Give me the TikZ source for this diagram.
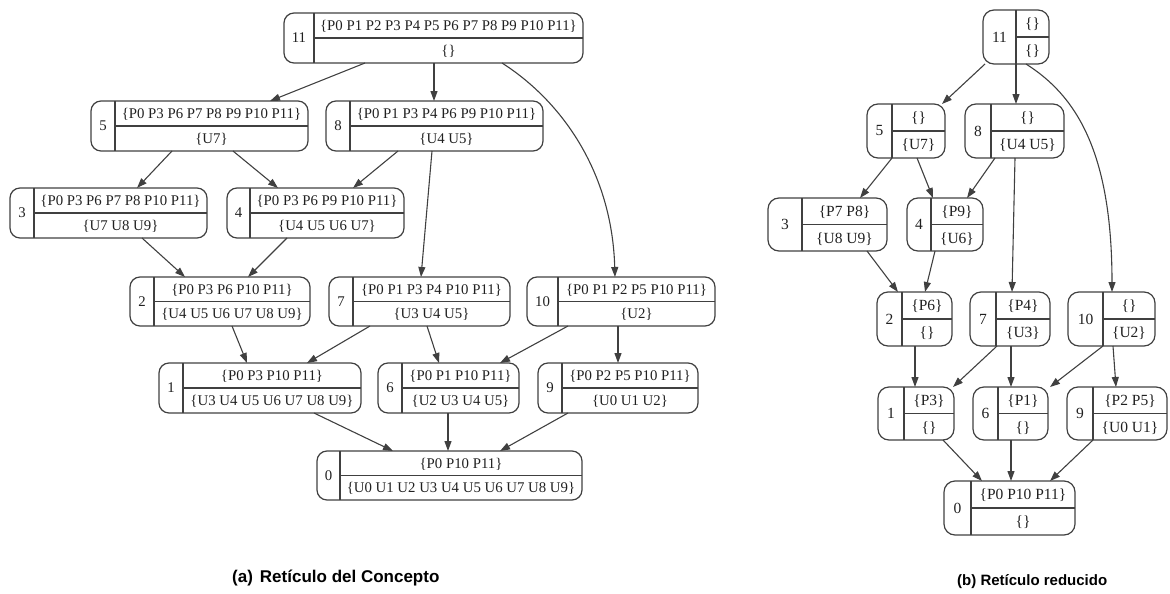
\documentclass[tikz,border=0pt]{standalone}
\usepackage{fontspec}
\setmainfont{Liberation Serif}
\setsansfont{Liberation Sans}
\usetikzlibrary{arrows.meta}

\definecolor{ink}{HTML}{404040}
\definecolor{txt}{HTML}{202020}

\tikzset{
  recbox/.style={draw=ink, line width=1.2pt, rounded corners=10pt, inner sep=0pt, outer sep=0pt},
  recline/.style={draw=ink, line width=1.2pt},
  rectext/.style={text=txt, inner sep=0pt, font=\fontsize{14.8}{17}\selectfont},
  link/.style={draw=ink, line width=1.1pt, -{Triangle[length=10pt,width=7pt]}},
  caption/.style={anchor=west, text=black, inner sep=0pt, font=\sffamily\bfseries\fontsize{17}{20}\selectfont},
}

% record node: name, left x, divider x, right x, top y, bottom y, number, extent, intent
\newcommand\recnode[9]{%
  \node[recbox, minimum width={(#4-#2)*1pt}, minimum height={(#6-#5)*1pt}] (#1) at ({(#2+#4)/2},{(#5+#6)/2}) {};
  \draw[recline] (#3,#5) -- (#3,#6) (#3,{(#5+#6)/2}) -- (#4,{(#5+#6)/2});
  \node[rectext] (#1-num) at ({(#2+#3)/2},{(#5+#6)/2}) {#7};
  \node[rectext] (#1-ext) at ({(#3+#4)/2},{(3*#5+#6)/4+1}) {#8};
  \node[rectext] (#1-int) at ({(#3+#4)/2},{(#5+3*#6)/4+1}) {#9};
}

\begin{document}
\begin{tikzpicture}[x=1pt, y=-1pt]
\useasboundingbox (0,0) rectangle (1170,594);

% ---- (a) full concept lattice ----
\recnode{l11}{284}{314}{583}{13}{63}{11}{\{P0 P1 P2 P3 P4 P5 P6 P7 P8 P9 P10 P11\}}{\{\}}
\recnode{l5}{91}{115}{308}{101}{151}{5}{\{P0 P3 P6 P7 P8 P9 P10 P11\}}{\{U7\}}
\recnode{l8}{326}{350}{543}{101}{151}{8}{\{P0 P1 P3 P4 P6 P9 P10 P11\}}{\{U4 U5\}}
\recnode{l3}{10}{34}{207}{188}{238}{3}{\{P0 P3 P6 P7 P8 P10 P11\}}{\{U7 U8 U9\}}
\recnode{l4}{227}{250}{404}{188}{238}{4}{\{P0 P3 P6 P9 P10 P11\}}{\{U4 U5 U6 U7\}}
\recnode{l2}{130}{154}{310}{277}{326}{2}{\{P0 P3 P6 P10 P11\}}{\{U4 U5 U6 U7 U8 U9\}}
\recnode{l7}{329}{353}{510}{277}{326}{7}{\{P0 P1 P3 P4 P10 P11\}}{\{U3 U4 U5\}}
\recnode{l10}{527}{558}{715}{277}{326}{10}{\{P0 P1 P2 P5 P10 P11\}}{\{U2\}}
\recnode{l1}{159}{183}{361}{363}{413}{1}{\{P0 P3 P10 P11\}}{\{U3 U4 U5 U6 U7 U8 U9\}}
\recnode{l6}{378}{402}{519}{363}{413}{6}{\{P0 P1 P10 P11\}}{\{U2 U3 U4 U5\}}
\recnode{l9}{538}{562}{698}{363}{413}{9}{\{P0 P2 P5 P10 P11\}}{\{U0 U1 U2\}}
\recnode{l0}{317}{340}{582}{451}{500}{0}{\{P0 P10 P11\}}{\{U0 U1 U2 U3 U4 U5 U6 U7 U8 U9\}}

\draw[link] (l11.south -| 365,0) -- (l5.north -| 270,0);
\draw[link] (l11.south -| 434,0) -- (l8.north -| 434,0);
\draw[link] (l11.south -| 502,0) .. controls (560,100) and (612,170) .. (l10.north -| 615,0);
\draw[link] (l5.south -| 172,0) -- (l3.north -| 137,0);
\draw[link] (l5.south -| 233,0) -- (l4.north -| 278,0);
\draw[link] (l8.south -| 398,0) -- (l4.north -| 353,0);
\draw[link] (l8.south -| 432,0) -- (l7.north -| 421,0);
\draw[link] (l3.south -| 142,0) -- (l2.north -| 185,0);
\draw[link] (l4.south -| 287,0) -- (l2.north -| 248,0);
\draw[link] (l2.south -| 232,0) -- (l1.north -| 247,0);
\draw[link] (l7.south -| 370,0) -- (l1.north -| 307,0);
\draw[link] (l7.south -| 427,0) -- (l6.north -| 439,0);
\draw[link] (l10.south -| 568,0) -- (l6.north -| 500,0);
\draw[link] (l10.south -| 618,0) -- (l9.north -| 618,0);
\draw[link] (l1.south -| 314,0) -- (l0.north -| 393,0);
\draw[link] (l6.south -| 448,0) -- (l0.north -| 448,0);
\draw[link] (l9.south -| 568,0) -- (l0.north -| 500,0);

% ---- (b) reduced lattice ----
\begin{scope}[rectext/.append style={font=\fontsize{15.5}{18}\selectfont}, recbox/.append style={rounded corners=11pt}]
\recnode{r11}{983}{1016}{1049}{10}{64}{11}{\{\}}{\{\}}
\recnode{r5}{867}{892}{945}{104}{158}{5}{\{\}}{\{U7\}}
\recnode{r8}{965}{991}{1064}{104}{158}{8}{\{\}}{\{U4 U5\}}
\recnode{r3}{768}{802}{887}{198}{251}{3}{\{P7 P8\}}{\{U8 U9\}}
\recnode{r4}{907}{931}{983}{198}{251}{4}{\{P9\}}{\{U6\}}
\recnode{r2}{877}{902}{952}{292}{346}{2}{\{P6\}}{\{\}}
\recnode{r7}{970}{996}{1050}{292}{346}{7}{\{P4\}}{\{U3\}}
\recnode{r10}{1068}{1103}{1155}{292}{346}{10}{\{\}}{\{U2\}}
\recnode{r1}{878}{904}{954}{387}{440}{1}{\{P3\}}{\{\}}
\recnode{r6}{973}{998}{1048}{387}{440}{6}{\{P1\}}{\{\}}
\recnode{r9}{1067}{1093}{1167}{387}{440}{9}{\{P2 P5\}}{\{U0 U1\}}
\recnode{r0}{944}{971}{1075}{481}{535}{0}{\{P0 P10 P11\}}{\{\}}
\end{scope}

\draw[link] (r11.south -| 985,0) -- (r5.north -| 942,0);
\draw[link] (r11.south -| 1016,0) -- (r8.north -| 1016,0);
\draw[link] (r11.south -| 1026,0) .. controls (1075,95) and (1112,150) .. (r10.north -| 1112,0);
\draw[link] (r5.south -| 892,0) -- (r3.north -| 860,0);
\draw[link] (r5.south -| 917,0) -- (r4.north -| 933,0);
\draw[link] (r8.south -| 995,0) -- (r4.north -| 967,0);
\draw[link] (r8.south -| 1015,0) -- (r7.north -| 1012,0);
\draw[link] (r3.south -| 867,0) -- (r2.north -| 898,0);
\draw[link] (r4.south -| 935,0) -- (r2.north -| 925,0);
\draw[link] (r2.south -| 915,0) -- (r1.north -| 915,0);
\draw[link] (r7.south -| 997,0) -- (r1.north -| 953,0);
\draw[link] (r7.south -| 1011,0) -- (r6.north -| 1011,0);
\draw[link] (r10.south -| 1103,0) -- (r6.north -| 1050,0);
\draw[link] (r10.south -| 1113,0) -- (r9.north -| 1116,0);
\draw[link] (r1.south -| 943,0) -- (r0.north -| 982,0);
\draw[link] (r6.south -| 1011,0) -- (r0.north -| 1011,0);
\draw[link] (r9.south -| 1093,0) -- (r0.north -| 1050,0);

% ---- captions ----
\node[caption] (capa) at (232,578) {(a)\hspace{7pt}Retículo del Concepto};
\node[caption, font=\sffamily\bfseries\fontsize{15}{18}\selectfont] (capb) at (957,582) {(b) Retículo reducido};
\end{tikzpicture}
\end{document}
